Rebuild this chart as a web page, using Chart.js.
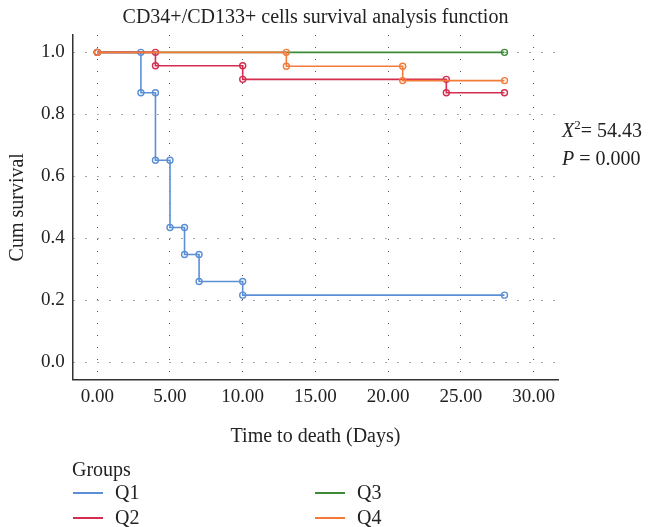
<!DOCTYPE html>
<html><head><meta charset="utf-8">
<script src="https://cdn.jsdelivr.net/npm/chart.js@4/dist/chart.umd.min.js"></script>
<style>
html,body{margin:0;padding:0;background:#fff;}
#wrap{position:relative;width:650px;height:527px;font-family:"Liberation Serif","Times New Roman",serif;color:#222;}
canvas{position:absolute;left:0;top:0;}
.txt{position:absolute;font-size:20px;line-height:24px;white-space:nowrap;}
.sw{display:inline-block;width:30px;height:0;border-top:2px solid;vertical-align:middle;margin-right:12px;position:relative;top:-1px;}
sup{font-size:13px;line-height:0;vertical-align:8px;}
</style></head>
<body><div id="wrap"><canvas id="c" width="650" height="527"></canvas>
<div id="stat"></div><div id="legend"></div></div>
<script>
// ---- data ----
const chartTitle = "CD34+/CD133+ cells survival analysis function";
const xAxisTitle = "Time to death (Days)";
const yAxisTitle = "Cum survival";
const legendTitle = "Groups";
const groups = ["Q1", "Q2", "Q3", "Q4"];
const q1Times = [0, 3, 4, 5, 6, 7, 10, 28];
const q1Surv  = [1.000, 0.870, 0.652, 0.435, 0.348, 0.261, 0.217, 0.217];
const q2Times = [0, 4, 10, 24, 28];
const q2Surv  = [1.000, 0.957, 0.913, 0.870, 0.870];
const q3Times = [0, 28];
const q3Surv  = [1.000, 1.000];
const q4Times = [0, 13, 21, 28];
const q4Surv  = [1.000, 0.955, 0.909, 0.909];
const xTickValues = [0, 5, 10, 15, 20, 25, 30];
const yTickValues = [0, 0.2, 0.4, 0.6, 0.8, 1.0];
const chiSquare = "54.43";
const pValue = "0.000";

// ---- styles ----
const groupColors = ["#5b8fd6", "#d42d4f", "#3c8a35", "#f47a3a"];
const drawOrder = [2, 1, 3, 0];
const FONT = "'Liberation Serif', 'Times New Roman', serif";

function stepPoints(times, surv) {
  const pts = [{x: times[0], y: surv[0]}];
  for (let i = 1; i < times.length; i++) {
    pts.push({x: times[i], y: surv[i - 1]});
    if (surv[i] !== surv[i - 1]) pts.push({x: times[i], y: surv[i]});
  }
  return pts;
}
const series = [[q1Times, q1Surv], [q2Times, q2Surv], [q3Times, q3Surv], [q4Times, q4Surv]];

const datasets = groups.map((g, i) => ({
  label: g,
  data: stepPoints(series[i][0], series[i][1]),
  showLine: true,
  borderColor: groupColors[i],
  borderWidth: 1.6,
  tension: 0,
  pointRadius: 3,
  pointBorderWidth: 1.4,
  pointBorderColor: groupColors[i],
  pointBackgroundColor: "rgba(255,255,255,0)",
  order: drawOrder[i]
}));

Chart.defaults.font.family = FONT;
Chart.defaults.color = "#222";

const titlePlugin = {
  id: "topTitle",
  afterDraw(chart) {
    const ctx = chart.ctx, a = chart.chartArea;
    ctx.save();
    ctx.font = "20px " + FONT;
    ctx.fillStyle = "#222";
    ctx.textAlign = "center";
    ctx.textBaseline = "middle";
    ctx.fillText(chartTitle, (a.left + a.right) / 2, 18);
    ctx.restore();
  }
};

new Chart(document.getElementById("c"), {
  type: "scatter",
  data: {datasets},
  plugins: [titlePlugin],
  options: {
    responsive: false,
    animation: false,
    layout: {padding: {left: 0, right: 91.7, top: 35, bottom: 78}},
    plugins: {legend: {display: false}, tooltip: {enabled: false}},
    scales: {
      x: {
        type: "linear", min: -1.69, max: 31.7,
        afterBuildTicks: s => { s.ticks = xTickValues.map(v => ({value: v})); },
        afterFit: s => { s.height = 69.5; },
        ticks: {autoSkip: false, maxRotation: 0, padding: 6, font: {size: 19}, color: "#222",
                callback: v => Number(v).toFixed(2)},
        grid: {color: "#555", lineWidth: 1, drawTicks: false},
        border: {display: true, color: "#333", width: 1.5, dash: [1, 11]},
        title: {display: true, text: xAxisTitle, font: {size: 20}, color: "#222", padding: {top: 0, bottom: 0}}
      },
      y: {
        type: "linear", min: -0.055, max: 1.056,
        afterBuildTicks: s => { s.ticks = yTickValues.map(v => ({value: v})); },
        afterFit: s => { s.width = 72.7; },
        ticks: {padding: 8, font: {size: 19}, color: "#222", callback: v => Number(v).toFixed(1)},
        grid: {color: "#555", lineWidth: 1, drawTicks: false},
        border: {display: true, color: "#333", width: 1.5, dash: [1, 11]},
        title: {display: true, text: yAxisTitle, font: {size: 20}, color: "#222", padding: {top: 6, bottom: 0}}
      }
    }
  }
});

// statistics annotation
const stat = document.getElementById("stat");
stat.innerHTML =
  '<div class="txt" style="left:562px;top:118px;"><i>X</i><sup>2</sup>= ' + chiSquare + '</div>' +
  '<div class="txt" style="left:562px;top:146px;"><i>P</i> = ' + pValue + '</div>';

// legend
const leg = document.getElementById("legend");
let html = '<div class="txt" style="left:72px;top:457px;">' + legendTitle + '</div>';
const cols = [73, 315], rows = [480, 505];
groups.forEach((g, i) => {
  const c = Math.floor(i / 2), r = i % 2;
  html += '<div class="txt" style="left:' + cols[c] + 'px;top:' + rows[r] + 'px;"><span class="sw" style="border-color:' +
          groupColors[i] + '"></span>' + g + '</div>';
});
leg.innerHTML = html;
</script>
</body></html>
